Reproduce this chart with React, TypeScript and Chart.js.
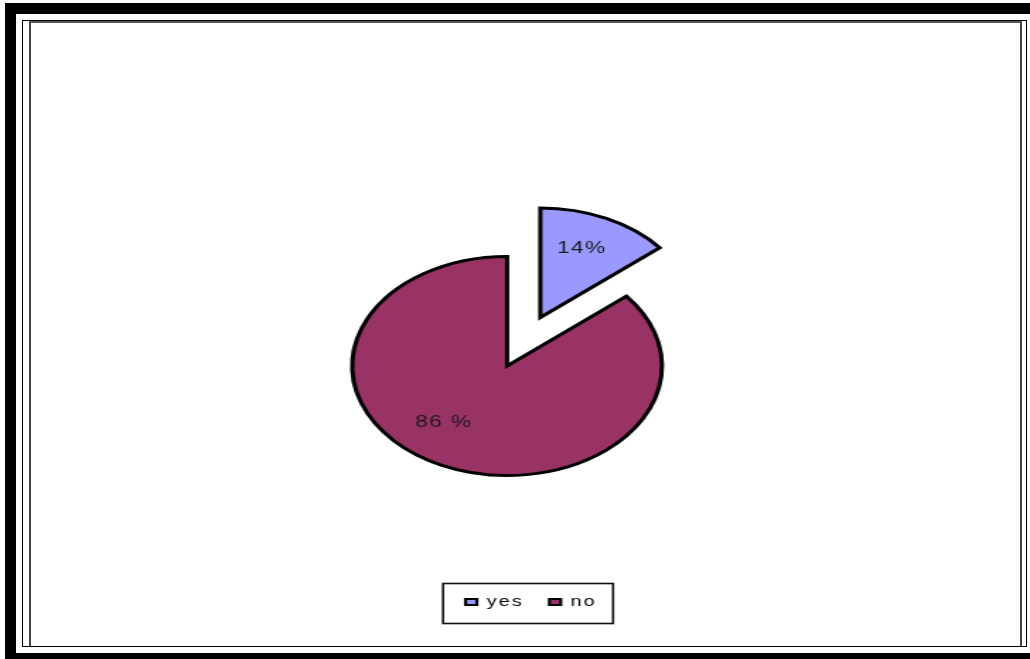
import React, { useEffect, useRef } from 'react';
import { Chart, registerables } from 'chart.js';

Chart.register(...registerables);

// ---- data ----
const categories = ['yes', 'no'];
const values = [14, 86];
const percentLabels = ['14%', '86 %'];
const sliceColors = ['#9999FF', '#993366'];

// ---- drawing constants (canvas is drawn narrow, then stretched horizontally like the reference) ----
const CW = 728;
const CH = 659;
const PAGE_W = 1030;
const PIE_RADIUS = 109.5;
const FONT = '"Liberation Sans", Arial, sans-serif';
const labelFrac = [0.68, 0.66];
const labelShiftDeg = [-2, 13];

function makeLabelPlugin(showIdx: number[]) {
  return {
    id: 'pctLabels',
    afterDatasetsDraw(chart: any) {
      const ctx = chart.ctx;
      const meta = chart.getDatasetMeta(0);
      ctx.save();
      ctx.letterSpacing = '1px';
      ctx.font = `16px ${FONT}`;
      ctx.fillStyle = '#1a1a1a';
      ctx.textAlign = 'center';
      ctx.textBaseline = 'middle';
      showIdx.forEach((i) => {
        const arc = meta.data[i];
        const p = arc.getProps(['x', 'y', 'startAngle', 'endAngle', 'outerRadius'], true);
        const mid = (p.startAngle + p.endAngle) / 2 + (labelShiftDeg[i] * Math.PI) / 180;
        const r = p.outerRadius * labelFrac[i];
        ctx.fillText(percentLabels[i], p.x + Math.cos(mid) * r, p.y + Math.sin(mid) * r);
      });
      ctx.restore();
    },
  };
}

const legendPlugin = {
  id: 'legendSpacingAndBox',
  beforeLayout(chart: any) {
    chart.ctx.letterSpacing = '1.5px';
  },
  beforeDraw(chart: any) {
    chart.ctx.letterSpacing = '1.5px';
  },
  afterDraw(chart: any) {
    const ctx = chart.ctx;
    ctx.letterSpacing = '0px';
    const hb = chart.legend && chart.legend.legendHitBoxes;
    if (!hb || !hb.length) return;
    const first = hb[0];
    const last = hb[hb.length - 1];
    const left = first.left - 15.9;
    const right = last.left + last.width + 11.4;
    const top = first.top - 11.5;
    const bottom = first.top + first.height + 14.5;
    ctx.save();
    ctx.strokeStyle = '#111';
    ctx.lineWidth = 1.6;
    ctx.strokeRect(left, top, right - left, bottom - top);
    ctx.restore();
  },
};

export default function App() {
  const refA = useRef<HTMLCanvasElement>(null);
  const refB = useRef<HTMLCanvasElement>(null);

  useEffect(() => {
    if (!refA.current || !refB.current) return;
    const transparent = 'rgba(0,0,0,0)';

    const chartA = new Chart(refA.current, {
      type: 'pie',
      data: {
        labels: categories,
        datasets: [
          {
            data: values,
            backgroundColor: [transparent, sliceColors[1]],
            borderColor: '#000',
            borderWidth: [0, 3],
            borderJoinStyle: 'miter',
          } as any,
        ],
      },
      options: {
        responsive: false,
        maintainAspectRatio: false,
        animation: false,
        devicePixelRatio: 1,
        events: [],
        radius: PIE_RADIUS,
        layout: { padding: { left: 276.9, right: 288.1, top: 155, bottom: 40 } },
        plugins: {
          legend: {
            position: 'bottom',
            align: 'end',
            labels: {
              boxWidth: 8,
              boxHeight: 6,
              padding: 18,
              color: '#000',
              font: { family: FONT, size: 14 },
              generateLabels: () =>
                categories.map((t, i) => ({
                  text: t,
                  fillStyle: sliceColors[i],
                  strokeStyle: '#000',
                  lineWidth: 2.2,
                  hidden: false,
                  index: i,
                  datasetIndex: 0,
                })),
            },
          },
          tooltip: { enabled: false },
        },
      } as any,
      plugins: [legendPlugin, makeLabelPlugin([1])],
    });

    const chartB = new Chart(refB.current, {
      type: 'pie',
      data: {
        labels: categories,
        datasets: [
          {
            data: values,
            backgroundColor: [sliceColors[0], transparent],
            borderColor: '#000',
            borderWidth: [3, 0],
            borderJoinStyle: 'miter',
          } as any,
        ],
      },
      options: {
        responsive: false,
        maintainAspectRatio: false,
        animation: false,
        devicePixelRatio: 1,
        events: [],
        radius: PIE_RADIUS,
        layout: { padding: { left: 35.8, right: 0, top: 0, bottom: 24 } },
        plugins: {
          legend: { display: false },
          tooltip: { enabled: false },
        },
      } as any,
      plugins: [makeLabelPlugin([0])],
    });

    return () => {
      chartA.destroy();
      chartB.destroy();
    };
  }, []);

  const abs = (s: React.CSSProperties): React.CSSProperties => ({ position: 'absolute', ...s });
  const canvasStyle: React.CSSProperties = {
    position: 'absolute',
    left: 0,
    top: 0,
    width: PAGE_W + 'px',
    height: CH + 'px',
  };

  return (
    <div style={abs({ left: 0, top: 0, width: PAGE_W, height: CH, background: '#fff', overflow: 'hidden' })}>
      <div style={abs({ left: 5, top: 3, width: 1025, height: 11, background: '#000' })} />
      <div style={abs({ left: 5, top: 3, width: 11, height: 656, background: '#000' })} />
      <div style={abs({ left: 5, top: 653, width: 1025, height: 6, background: '#000' })} />
      <div style={abs({ left: 22, top: 20, width: 1005, height: 627, border: '1px solid #000', boxSizing: 'border-box' })} />
      <div
        style={abs({
          left: 29,
          top: 21,
          width: 993,
          height: 625,
          borderLeft: '2px solid #444',
          borderRight: '2px solid #444',
          borderTop: '2px solid #555',
          boxSizing: 'border-box',
        })}
      />
      <canvas ref={refA} width={CW} height={CH} style={canvasStyle} />
      <canvas ref={refB} width={CW} height={CH} style={canvasStyle} />
    </div>
  );
}
